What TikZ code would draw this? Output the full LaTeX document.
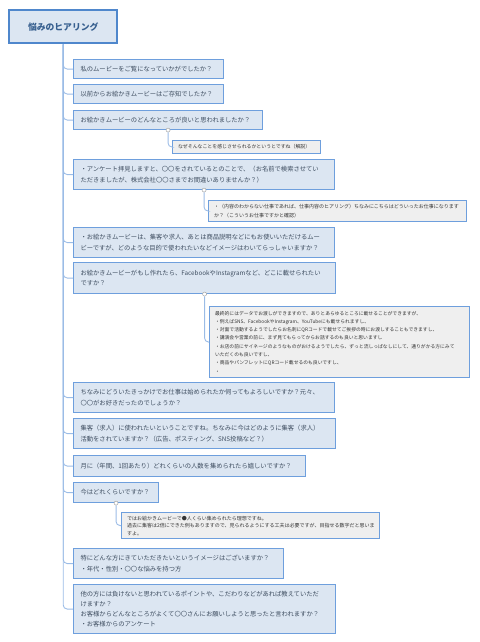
\documentclass[tikz,border=0pt]{standalone}
\usepackage{fontspec}
\setmainfont{Noto Sans CJK JP}
\usetikzlibrary{positioning}

\definecolor{qfill}{HTML}{DCE6F2}
\definecolor{qline}{HTML}{6E9FDD}
\definecolor{rootline}{HTML}{4F87CC}
\definecolor{nfill}{HTML}{EFEFEF}
\definecolor{linkc}{HTML}{9BBCE6}
\definecolor{qtext}{HTML}{3E4D60}

\begin{document}
\begin{tikzpicture}[x=1pt, y=-1pt,
    rootbox/.style={draw=rootline, fill=qfill, line width=2.4pt, anchor=north west,
        minimum width=108pt, minimum height=33pt, text=rootline!70!black,
        font=\fontsize{8.8pt}{10pt}\selectfont\bfseries},
    qbox/.style={draw=qline, fill=qfill, line width=1.1pt, anchor=north west,
        inner xsep=7pt, inner ysep=0pt, align=left, text=qtext,
        font=\fontsize{6.3pt}{10.5pt}\selectfont},
    notebox/.style={draw=qline, fill=nfill, line width=1.1pt, anchor=north west,
        inner xsep=5.5pt, inner ysep=0pt, align=left, text=black!80},
    knob/.style={circle, draw=black!35, fill=white, line width=0.5pt, inner sep=0pt, minimum size=4pt},
    link/.style={draw=linkc, line width=0.9pt, rounded corners=4pt}]

    % page frame
    \useasboundingbox (0,0) rectangle (479,642);

    % Root
    \node[rootbox] (root) at (8,9) {悩みのヒアリング};

    % Questions
    \node[qbox, text width=136pt, minimum height=19pt] (q1) at (73,59) {私のムービーをご覧になっていかがでしたか？};
    \node[qbox, text width=136pt, minimum height=19pt] (q2) at (73,84) {以前からお絵かきムービーはご存知でしたか？};
    \node[qbox, text width=175pt, minimum height=19pt] (q3) at (73,110) {お絵かきムービーのどんなところが良いと思われましたか？};
    \node[qbox, text width=247pt, minimum height=30pt] (q4) at (73,159)
        {・アンケート拝見しますと、〇〇をされているとのことで、（お名前で検索させてい\\ただきましたが、株式会社〇〇さまでお間違いありませんか？）};
    \node[qbox, text width=247pt, minimum height=30pt] (q5) at (73,227)
        {・お絵かきムービーは、集客や求人、あとは商品説明などにもお使いいただけるムー\\ビーですが、どのような目的で使われたいなどイメージはわいてらっしゃいますか？};
    \node[qbox, text width=248pt, minimum height=31pt] (q6) at (73,262)
        {お絵かきムービーがもし作れたら、FacebookやInstagramなど、どこに載せられたい\\ですか？};
    \node[qbox, text width=247pt, minimum height=30pt] (q7) at (73,382)
        {ちなみにどういたきっかけでお仕事は始められたか伺ってもよろしいですか？元々、\\〇〇がお好きだったのでしょうか？};
    \node[qbox, text width=248pt, minimum height=30pt] (q8) at (73,418)
        {集客（求人）に使われたいということですね。ちなみに今はどのように集客（求人）\\活動をされていますか？（広告、ポスティング、SNS投稿など？）};
    \node[qbox, text width=218pt, minimum height=21pt] (q9) at (73,455)
        {月に（年間、1回あたり）どれくらいの人数を集められたら嬉しいですか？};
    \node[qbox, text width=71pt, minimum height=20pt] (q10) at (73,482) {今はどれくらいですか？};
    \node[qbox, text width=196pt, minimum height=30pt] (q11) at (73,548)
        {特にどんな方にきていただきたいというイメージはございますか？\\・年代・性別・〇〇な悩みを持つ方};
    \node[qbox, text width=248pt, minimum height=49pt, font=\fontsize{6.3pt}{9.8pt}\selectfont] (q12) at (73,584)
        {他の方には負けないと思われているポイントや、こだわりなどがあれば教えていただ\\けますか？\\お客様からどんなところがよくて〇〇さんにお願いしようと思ったと言われますか？\\・お客様からのアンケート};

    % Notes
    \node[notebox, text width=137pt, minimum height=13pt, font=\fontsize{4.9pt}{7pt}\selectfont] (n3) at (172,140)
        {なぜそんなことを感じさせられるかというとですね（解説）};
    \node[notebox, text width=247pt, minimum height=21pt, font=\fontsize{5pt}{8.6pt}\selectfont] (n4) at (208,200)
        {・（内容のわからない仕事であれば、仕事内容のヒアリング）ちなみにこちらはどういったお仕事になります\\か？（こういうお仕事ですかと確認）};
    \node[notebox, text width=249pt, minimum height=71pt, font=\fontsize{4.8pt}{8.3pt}\selectfont] (n6) at (209,306)
        {最終的にはデータでお渡しができますので、ありとあらゆるところに載せることができますが、\\
         ・例えばSNS、FacebookやInstagram、YouTubeにも載せられますし、\\
         ・対面で活動するようでしたらお名刺にQRコードで載せてご挨拶の時にお渡しすることもできますし、\\
         ・講演会や営業の前に、まず見てもらってからお話するのも良いと思いますし\\
         ・お店の前にサイネージのようなものがおけるようでしたら、ずっと流しっぱなしにして、通りがかる方にみて\\
         いただくのも良いですし、\\
         ・商品やパンフレットにQRコード載せるのも良いですし、\\
         ・};
    \node[notebox, text width=247pt, minimum height=26pt, font=\fontsize{5pt}{7.5pt}\selectfont] (n10) at (121,512)
        {ではお絵かきムービーで●人くらい集められたら理想ですね。\\
         過去に集客は2倍にできた例もありますので、見られるようにする工夫は必要ですが、目指せる数字だと思いま\\
         すよ。};

    % Branches
    \foreach \q in {q1,q2,q3,q4,q5,q6,q7,q8,q9,q10,q11,q12}
        \draw[link] (root.south) |- (\q.west);

    % Note links
    \foreach \q/\n in {q3/n3,q4/n4,q6/n6,q10/n10} {
        \node[knob] (k\n) at (\q.south) {};
        \draw[link] (k\n.south) |- (\n.west);
    }
\end{tikzpicture}
\end{document}
